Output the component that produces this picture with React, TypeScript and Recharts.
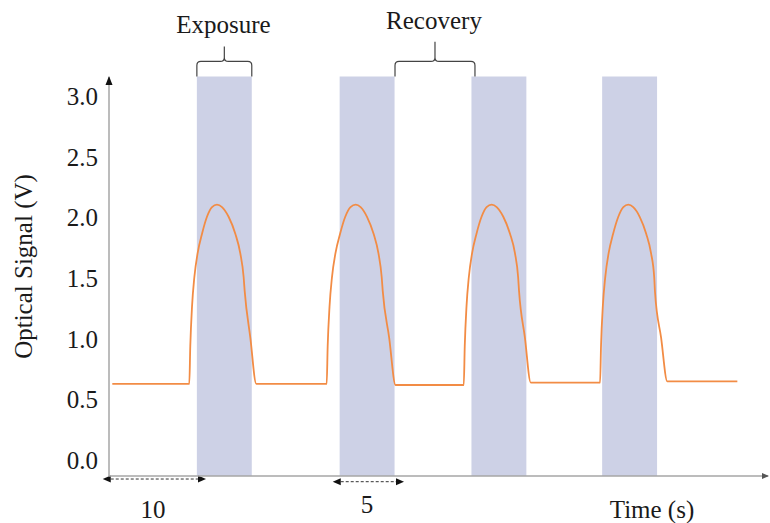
import React from 'react';
import {
  ComposedChart,
  Line,
  XAxis,
  YAxis,
  ReferenceArea,
  ReferenceLine,
  ReferenceDot,
  Label,
} from 'recharts';

// ---- data (time in s, signal in V) ----
const signalTime = [
  0.3,
  7.31, 7.4, 7.56, 7.77, 8.07, 8.47, 8.92, 9.38, 9.83, 10.29, 10.89, 11.5, 11.95, 12.26, 12.35, 12.87, 13.41,
  19.82, 19.91, 20.08, 20.3, 20.62, 21.04, 21.51, 21.99, 22.46, 22.91, 23.49, 24.09, 24.53, 24.83, 24.92, 25.51, 26.09,
  32.3, 32.39, 32.55, 32.76, 33.06, 33.46, 33.92, 34.38, 34.84, 35.3, 35.9, 36.51, 36.96, 37.25, 37.33, 37.87, 38.4,
  44.71, 44.8, 44.96, 45.18, 45.49, 45.9, 46.37, 46.83, 47.28, 47.73, 48.32, 48.91, 49.35, 49.64, 49.71, 50.27, 50.83,
  57.21,
];
const signalVolts = [
  0.63,
  0.63, 0.94, 1.27, 1.51, 1.71, 1.87, 2.01, 2.09, 2.11, 2.09, 2.01, 1.87, 1.71, 1.51, 1.4, 1.01, 0.63,
  0.63, 0.94, 1.27, 1.51, 1.71, 1.87, 2.01, 2.09, 2.11, 2.09, 2.01, 1.87, 1.71, 1.51, 1.4, 1.01, 0.62,
  0.62, 0.94, 1.27, 1.51, 1.71, 1.87, 2.01, 2.09, 2.11, 2.09, 2.01, 1.87, 1.71, 1.51, 1.4, 1.01, 0.64,
  0.64, 0.95, 1.27, 1.51, 1.71, 1.87, 2.01, 2.09, 2.11, 2.09, 2.01, 1.87, 1.71, 1.51, 1.39, 1.01, 0.65,
  0.65,
];

const exposureStart = [8.0, 21.0, 33.0, 44.9];
const exposureEnd = [13.0, 26.0, 38.0, 49.9];
const exposureTop = 3.17;

const yTicks = [0, 0.5, 1, 1.5, 2, 2.5, 3];
const yTickLabels = ['0.0', '0.5', '1.0', '1.5', '2.0', '2.5', '3.0'];

const xDomain = [0, 60];
const yDomain = [-0.132, 3.165];

// braces over the plot
const braceStart = [8.0, 26.04];
const braceEnd = [13.0, 33.32];
const braceBase = [3.17, 3.17];
const braceTip = [3.416, 3.457];

// dashed duration arrows under the axis
const spanFrom = [-0.57, 20.37];
const spanTo = [8.83, 26.86];
const spanLevel = [-0.157, -0.179];

// annotation texts
const noteText = ['Exposure', 'Recovery', '10', '5'];
const noteTime = [10.41, 29.59, 4.01, 23.49];
const noteVolts = [3.526, 3.562, -0.479, -0.436];

const yTitle = 'Optical Signal (V)';
const xTitle = 'Time (s)';

const data = signalTime.map((t, i) => ({ t, v: signalVolts[i] }));

const FONT = "'Liberation Serif', 'Times New Roman', serif";
const TEXT = '#1a1a1a';

const BraceShape = (props: any) => {
  const { x, y, width, height } = props;
  const left = x;
  const right = x + width;
  const bottom = y + height;
  const tip = y;
  const bar = bottom - 15;
  const mid = x + width / 2;
  const r = 4;
  const d = `M${left},${bottom} L${left},${bar + r} Q${left},${bar} ${left + r},${bar} L${mid - r},${bar} Q${mid},${bar} ${mid},${bar - r} L${mid},${tip} M${mid},${bar - r} Q${mid},${bar} ${mid + r},${bar} L${right - r},${bar} Q${right},${bar} ${right},${bar + r} L${right},${bottom}`;
  return <path d={d} fill="none" stroke="#444" strokeWidth={1.2} />;
};

const DashedArrow = (props: any) => {
  const { x1, y1, x2, y2 } = props;
  const h = 8;
  const w = 3.5;
  return (
    <g>
      <line x1={x1 + h} y1={y1} x2={x2 - h} y2={y2} stroke="#333" strokeWidth={1} strokeDasharray="3 2" />
      <polygon points={`${x1},${y1} ${x1 + h},${y1 - w} ${x1 + h},${y1 + w}`} fill="#111" />
      <polygon points={`${x2},${y2} ${x2 - h},${y2 - w} ${x2 - h},${y2 + w}`} fill="#111" />
    </g>
  );
};

const makeTextShape = (txt: string) => (props: any) => (
  <text x={props.cx} y={props.cy} textAnchor="middle" fontFamily={FONT} fontSize={25} fill={TEXT}>
    {txt}
  </text>
);

const YTick = (props: any) => {
  const { x, y, payload } = props;
  const idx = yTicks.indexOf(payload.value);
  const label = idx >= 0 ? yTickLabels[idx] : String(payload.value);
  return (
    <text x={x} y={y} textAnchor="end" dominantBaseline="central" fontFamily={FONT} fontSize={25} fill={TEXT}>
      {label}
    </text>
  );
};

const UpArrowHead = (props: any) => (
  <polygon
    points={`${props.cx},${props.cy - 1} ${props.cx - 3.5},${props.cy + 8} ${props.cx + 3.5},${props.cy + 8}`}
    fill="#111"
  />
);

const RightArrowHead = (props: any) => (
  <polygon
    points={`${props.cx + 1},${props.cy} ${props.cx - 6},${props.cy - 3} ${props.cx - 6},${props.cy + 3}`}
    fill="#555"
  />
);

export default function App() {
  return (
    <div style={{ position: 'absolute', left: 0, top: 0, background: '#fff' }}>
      <ComposedChart
        width={770}
        height={523}
        data={data}
        margin={{ top: 77, right: 2, bottom: 0, left: 0 }}
      >
        <XAxis
          dataKey="t"
          type="number"
          domain={xDomain}
          allowDataOverflow
          tick={false}
          tickLine={false}
          axisLine={{ stroke: '#a6a6a6', strokeWidth: 1.5 }}
          height={47}
        >
          <Label
            content={(p: any) => {
              const vb = p.viewBox || { x: 109, y: 476, width: 659, height: 47 };
              return (
                <text
                  x={vb.x + vb.width - 116}
                  y={vb.y + 42}
                  textAnchor="middle"
                  fontFamily={FONT}
                  fontSize={25}
                  fill={TEXT}
                >
                  {xTitle}
                </text>
              );
            }}
          />
        </XAxis>
        <YAxis
          type="number"
          domain={yDomain}
          allowDataOverflow
          ticks={yTicks}
          tickLine={false}
          tickSize={6}
          tickMargin={5}
          width={109}
          axisLine={{ stroke: '#a6a6a6', strokeWidth: 1.5 }}
          tick={YTick}
        >
          <Label
            content={(p: any) => {
              const vb = p.viewBox || { x: 0, y: 77, width: 109, height: 399 };
              const cx = 23;
              const cy = vb.y + vb.height / 2 - 10;
              return (
                <text
                  x={cx}
                  y={cy}
                  transform={`rotate(-90 ${cx} ${cy})`}
                  textAnchor="middle"
                  dominantBaseline="central"
                  fontFamily={FONT}
                  fontSize={25}
                  fill={TEXT}
                >
                  {yTitle}
                </text>
              );
            }}
          />
        </YAxis>

        {exposureStart.map((s, i) => (
          <ReferenceArea
            key={`exp-${i}`}
            x1={s}
            x2={exposureEnd[i]}
            y1={yDomain[0]}
            y2={exposureTop}
            fill="#cdd1e6"
            fillOpacity={1}
            stroke="none"
            ifOverflow="visible"
          />
        ))}

        {braceStart.map((s, i) => (
          <ReferenceArea
            key={`brace-${i}`}
            x1={s}
            x2={braceEnd[i]}
            y1={braceBase[i]}
            y2={braceTip[i]}
            ifOverflow="visible"
            shape={BraceShape}
          />
        ))}

        {spanFrom.map((f, i) => (
          <ReferenceLine
            key={`span-${i}`}
            segment={[
              { x: f, y: spanLevel[i] },
              { x: spanTo[i], y: spanLevel[i] },
            ]}
            ifOverflow="visible"
            shape={DashedArrow}
          />
        ))}

        {noteText.map((txt, i) => (
          <ReferenceDot
            key={`note-${i}`}
            x={noteTime[i]}
            y={noteVolts[i]}
            r={0}
            ifOverflow="visible"
            shape={makeTextShape(txt)}
          />
        ))}

        <ReferenceDot x={xDomain[0]} y={yDomain[1]} r={0} ifOverflow="visible" shape={UpArrowHead} />
        <ReferenceDot x={xDomain[1]} y={yDomain[0]} r={0} ifOverflow="visible" shape={RightArrowHead} />

        <Line
          type="monotone"
          dataKey="v"
          stroke="#f28c45"
          strokeWidth={1.8}
          dot={false}
          activeDot={false}
          isAnimationActive={false}
        />
      </ComposedChart>
    </div>
  );
}
